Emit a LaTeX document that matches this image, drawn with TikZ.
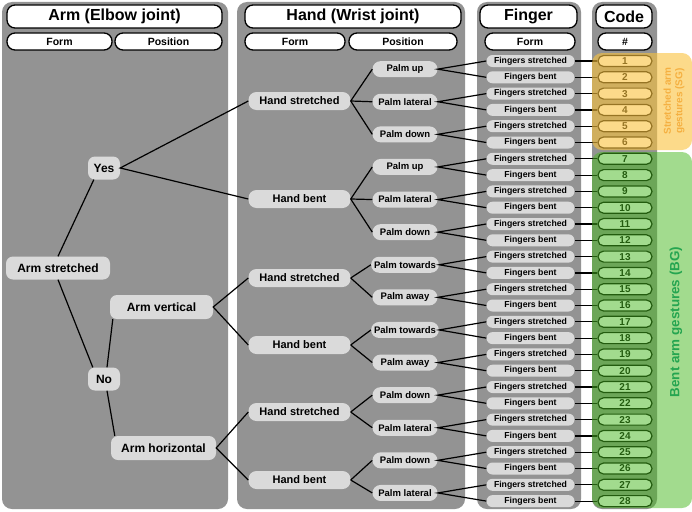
\documentclass[tikz,border=0pt]{standalone}
\usepackage{fontspec}
\setmainfont{Liberation Sans}
\definecolor{panelgray}{HTML}{939393}
\definecolor{nodegray}{HTML}{DADADA}
\definecolor{ovyellow}{HTML}{FAC23C}
\definecolor{ovgreen}{HTML}{47B91F}
\definecolor{sgtext}{HTML}{F5B041}
\definecolor{bgtext}{HTML}{25A550}
\newcommand\myfs[1]{\fontsize{#1}{#1}\selectfont\bfseries}
\begin{document}
\begin{tikzpicture}[x=1pt,y=-1pt,
  panel/.style={fill=panelgray,rounded corners=10pt},
  hdr/.style={draw,fill=white,line width=1.3pt,rounded corners=8pt,inner sep=0pt,minimum height=23pt,font=\myfs{16}},
  sub/.style={draw,fill=white,line width=1.3pt,rounded corners=8pt,inner sep=0pt,minimum height=17pt,font=\myfs{10.5}},
  tree/.style={fill=nodegray,rounded corners=7pt,inner sep=0pt,minimum height=23pt,font=\myfs{12}},
  hand/.style={fill=nodegray,rounded corners=8pt,inner sep=0pt,minimum height=18pt,minimum width=102pt,font=\myfs{11}},
  palm/.style={fill=nodegray,rounded corners=8pt,inner xsep=3pt,inner ysep=0pt,minimum height=16pt,minimum width=65pt,font=\myfs{9.5}},
  fing/.style={fill=nodegray,rounded corners=6pt,inner sep=0pt,minimum height=12pt,minimum width=88pt,font=\myfs{8.7}},
  code/.style={draw,fill=white,line width=1.2pt,rounded corners=5.5pt,inner sep=0pt,minimum height=11pt,minimum width=54pt,font=\myfs{10}},
  conn/.style={line width=1.2pt}]
\useasboundingbox[fill=white] (0,0) rectangle (692,511);

% panels
\fill[panel] (2,2) rectangle (228,509);
\fill[panel] (237,2) rectangle (465,509);
\fill[panel] (477,2) rectangle (581,509);
\fill[panel] (592,2) rectangle (657,509);

% headers
\node[hdr,minimum width=215pt] (h1) at (114.5,16.5) {Arm (Elbow joint)};
\node[sub,minimum width=105pt] (h1a) at (59.5,41.5) {Form};
\node[sub,minimum width=107pt] (h1b) at (168.5,41.5) {Position};
\node[hdr,minimum width=216pt] (h2) at (353,16.5) {Hand (Wrist joint)};
\node[sub,minimum width=100pt] (h2a) at (295,41.5) {Form};
\node[sub,minimum width=108pt] (h2b) at (403,41.5) {Position};
\node[hdr,minimum width=97pt] (h3) at (528.5,16.5) {Finger};
\node[sub,minimum width=90pt] (h3a) at (530,41.5) {Form};
\node[hdr,minimum width=56pt] (h4) at (624,16.5) {Code};
\node[sub,minimum width=54pt] (h4a) at (625,41.5) {\#};

% fingers and codes
\foreach \i in {1,...,28}{
  \pgfmathsetmacro\yy{61+(\i-1)*16.3}
  \ifodd\i
    \node[fing] (f\i) at (530.5,\yy) {Fingers stretched};
  \else
    \node[fing] (f\i) at (530.5,\yy) {Fingers bent};
  \fi
  \node[code] (c\i) at (625,\yy) {\i};
  \draw[conn] (f\i.east) -- (c\i.west);
}

% palms
\foreach \k/\t in {1/Palm up,2/Palm lateral,3/Palm down,4/Palm up,5/Palm lateral,6/Palm down,7/Palm towards,8/Palm away,9/Palm towards,10/Palm away,11/Palm down,12/Palm lateral,13/Palm down,14/Palm lateral}{
  \pgfmathsetmacro\yy{61+(2*\k-1.5)*16.3}
  \pgfmathtruncatemacro\fa{2*\k-1}
  \pgfmathtruncatemacro\fb{2*\k}
  \node[palm] (p\k) at (405,\yy) {\t};
  \draw[conn] (f\fa.west) -- (p\k.east) -- (f\fb.west);
}

% hands
\node[hand] (hs1) at (299.5,101) {Hand stretched};
\node[hand] (hb1) at (299.5,199) {Hand bent};
\node[hand] (hs2) at (299.5,278) {Hand stretched};
\node[hand] (hb2) at (299.5,345) {Hand bent};
\node[hand] (hs3) at (299.5,412) {Hand stretched};
\node[hand] (hb3) at (299.5,480) {Hand bent};
\foreach \h/\p in {hs1/p1,hs1/p2,hs1/p3,hb1/p4,hb1/p5,hb1/p6,hs2/p7,hs2/p8,hb2/p9,hb2/p10,hs3/p11,hs3/p12,hb3/p13,hb3/p14}
  \draw[conn] (\h.east) -- (\p.west);

% arm tree
\node[tree,minimum width=104pt] (as) at (58,268) {Arm stretched};
\node[tree,minimum width=32pt] (yes) at (104,168) {Yes};
\node[tree,minimum width=32pt] (no) at (104,379) {No};
\node[tree,minimum width=103pt,minimum height=24pt] (av) at (161.5,307) {Arm vertical};
\node[tree,minimum width=105pt,minimum height=24pt] (ah) at (163.5,448) {Arm horizontal};
\draw[conn] (as.north) -- ([xshift=6pt]yes.south west);
\draw[conn] (as.south) -- ([xshift=5pt]no.north west);
\draw[conn] ([xshift=3pt]no.north) -- ([xshift=3pt]av.south west);
\draw[conn] ([xshift=3pt]no.south) -- ([xshift=4pt]ah.north west);
\draw[conn] (hs1.west) -- (yes.east) -- (hb1.west);
\draw[conn] (hs2.west) -- (av.east) -- (hb2.west);
\draw[conn] (hs3.west) -- (ah.east) -- (hb3.west);

% overlays
\fill[ovyellow,opacity=0.6,rounded corners=10pt] (592,53) rectangle (692,150);
\fill[ovgreen,opacity=0.5,rounded corners=10pt] (592,152) rectangle (692,508);
\node[rotate=90,text=sgtext,align=center,inner sep=0pt,font={\fontsize{10}{11.5}\selectfont\bfseries}] (sg) at (674,101) {Stretched arm\\gestures (SG)};
\node[rotate=90,text=bgtext,inner sep=0pt,font=\myfs{13.4}] (bg) at (676,322) {Bent arm gestures (BG)};
\end{tikzpicture}
\end{document}
